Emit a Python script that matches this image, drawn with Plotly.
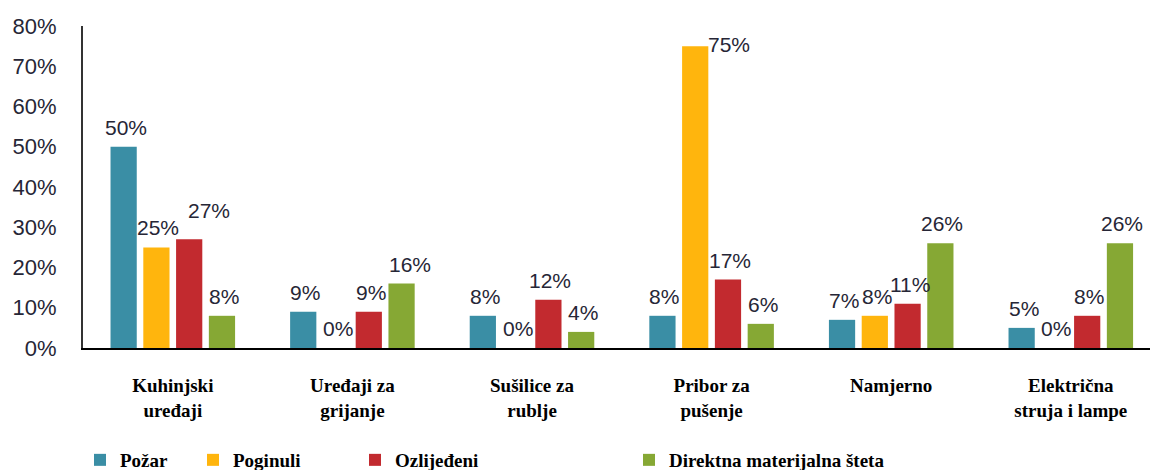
import plotly.graph_objects as go

categories = ["Kuhinjski<br>uređaji", "Uređaji za<br>grijanje", "Sušilice za<br>rublje",
              "Pribor za<br>pušenje", "Namjerno", "Električna<br>struja i lampe"]
series_names = ["Požar", "Poginuli", "Ozlijeđeni", "Direktna materijalna šteta"]
pozar = [50, 9, 8, 8, 7, 5]
poginuli = [25, 0, 0, 75, 8, 0]
ozlijedjeni = [27, 9, 12, 17, 11, 8]
steta = [8, 16, 4, 6, 26, 26]
y_ticks = [0, 10, 20, 30, 40, 50, 60, 70, 80]

colors = ["#3A8EA5", "#FFB50D", "#C22A2F", "#86A834"]
legend_x_px = [80, 193, 355, 629]
# label placement nudges (series index, category index) -> (dx px, dy px)
label_nudges = {(2, 0): (18, 9), (1, 3): (32, -18), (3, 1): (6, 0)}

W, H = 1150, 470
ML, MR, MT, MB = 83, 0, 26, 122
plot_w = W - ML - MR
plot_h = H - MT - MB
n_cat = len(categories)
cat_px = 179.6
x_max = -0.5 + plot_w / cat_px
bargap = 0.27
bar_step = cat_px * (1 - bargap) / 4

all_vals = [pozar, poginuli, ozlijedjeni, steta]

fig = go.Figure()
legend_keys = ["legend", "legend2", "legend3", "legend4"]
for i, (name, vals) in enumerate(zip(series_names, all_vals)):
    fig.add_trace(go.Bar(
        x=list(range(n_cat)), y=vals, name=name,
        marker=dict(color=colors[i], line=dict(width=0)),
        legend=legend_keys[i],
    ))

annotations = []
for i, vals in enumerate(all_vals):
    for j, v in enumerate(vals):
        dx, dy = label_nudges.get((i, j), (0, 0))
        annotations.append(dict(
            x=j, y=v, xref="x", yref="y", text=f"{v}%", showarrow=False,
            xanchor="center", yanchor="bottom",
            xshift=(i - 1.5) * bar_step + 2 + dx, yshift=6 + dy,
            font=dict(family="Liberation Sans, Arial, sans-serif", size=21, color="#262636"),
        ))

layout_legends = {}
for i, key in enumerate(legend_keys):
    layout_legends[key] = dict(
        x=(legend_x_px[i] - ML) / plot_w, xref="paper", xanchor="left",
        y=(H - MB - 460) / plot_h, yref="paper", yanchor="middle",
        orientation="h", bgcolor="rgba(0,0,0,0)", borderwidth=0,
        font=dict(family="Liberation Serif, Times New Roman, serif", size=19,
                  color="#000000", weight="bold"),
        itemwidth=30,
    )

fig.update_layout(
    width=W, height=H,
    margin=dict(l=ML, r=MR, t=MT, b=MB, pad=0, autoexpand=False),
    paper_bgcolor="white", plot_bgcolor="white",
    barmode="group", bargap=bargap, bargroupgap=0.2,
    showlegend=True,
    annotations=annotations,
    **layout_legends,
)
fig.update_xaxes(
    range=[-0.5, x_max], tickmode="array", tickvals=list(range(n_cat)), ticktext=categories,
    showgrid=False, zeroline=False, showline=True, linecolor="#000000", linewidth=2,
    ticks="", ticklabelstandoff=19, automargin=False,
    tickfont=dict(family="Liberation Serif, Times New Roman, serif", size=19,
                  color="#000000", weight="bold"),
)
fig.update_yaxes(
    range=[0, 80], tickmode="array", tickvals=y_ticks, ticktext=[f"{t}%" for t in y_ticks],
    showgrid=False, zeroline=False, showline=True, linecolor="#333333", linewidth=2,
    ticks="", ticklabelstandoff=20, automargin=False,
    tickfont=dict(family="Liberation Sans, Arial, sans-serif", size=22, color="#262636"),
)
fig.write_html(
    "out.html",
    config={"displayModeBar": False},
    post_script="document.body.style.margin='0';document.body.style.overflow='hidden';",
)
